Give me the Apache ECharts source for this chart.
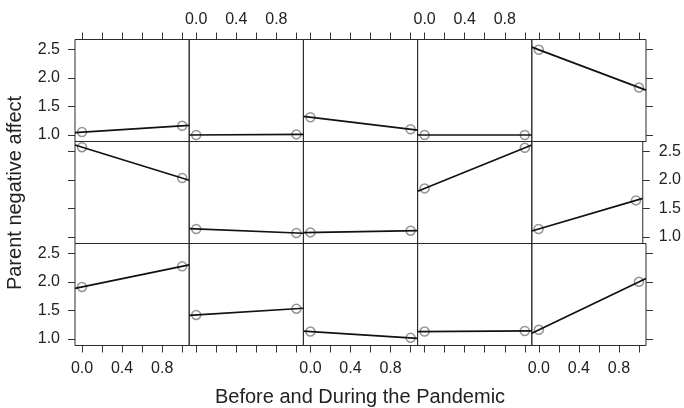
<!DOCTYPE html>
<html>
<head>
<meta charset="utf-8">
<script src="https://cdn.jsdelivr.net/npm/echarts@6/dist/echarts.min.js"></script>
<style>
  html, body { margin: 0; padding: 0; background: #fff; }
  #chart { width: 684px; height: 408px; }
</style>
</head>
<body>
<div id="chart"></div>
<script>
// panels read left to right, top row first
const timePoints = [0, 1]
const beforeValues = [
  1.05, 1.00, 1.31, 1.00, 2.49,
  2.57, 1.14, 1.08, 1.85, 1.14,
  1.91, 1.42, 1.13, 1.13, 1.16
]
const duringValues = [
  1.16, 1.01, 1.10, 1.00, 1.83,
  2.03, 1.07, 1.11, 2.56, 1.64,
  2.27, 1.53, 1.02, 1.14, 2.00
]
const xTicks = [0, 0.2, 0.4, 0.6, 0.8, 1.0]
const xLabels = [0, 0.4, 0.8]
const yTicks = [1.0, 1.5, 2.0, 2.5]

const xMin = -0.07, xMax = 1.07
const yMin = 0.886, yMax = 2.67

const nCol = 5, nRow = 3
const left0 = 75, top0 = 39.5, cellW = 114.2, cellH = 102

const font = 'Liberation Sans, Arial, sans-serif'
const tickStyle = { show: true, length: 7, inside: false, lineStyle: { color: '#333', width: 1 } }

const grids = [], xAxes = [], yAxes = [], series = []

for (let i = 0; i < nRow * nCol; i++) {
  const r = Math.floor(i / nCol), c = i % nCol
  grids.push({
    left: left0 + c * cellW, top: top0 + r * cellH,
    width: cellW, height: cellH,
    show: true, borderColor: '#2a2a2a', borderWidth: 1, backgroundColor: 'transparent'
  })

  // x axis: ticks on the outer rows only, labels alternate between columns
  const xOuter = r === 0 || r === nRow - 1
  const xLabelShown = (r === 0 && c % 2 === 1) || (r === nRow - 1 && c % 2 === 0)
  xAxes.push({
    type: 'value', gridIndex: i, min: xMin, max: xMax,
    position: r === 0 ? 'top' : 'bottom',
    axisLine: { show: false, onZero: false },
    splitLine: { show: false },
    axisTick: Object.assign({}, tickStyle, { show: xOuter, customValues: xTicks }),
    axisLabel: {
      show: xLabelShown, customValues: xLabels,
      margin: r === 0 ? 12 : 15,
      fontFamily: font, fontSize: 16, color: '#222',
      formatter: v => v.toFixed(1)
    }
  })

  // y axis: left on first column, right on last column
  const yOuter = c === 0 || c === nCol - 1
  const yLabelShown = (c === 0 && r !== 1) || (c === nCol - 1 && r === 1)
  yAxes.push({
    type: 'value', gridIndex: i, min: yMin, max: yMax,
    position: c === nCol - 1 ? 'right' : 'left',
    axisLine: { show: false, onZero: false },
    splitLine: { show: false },
    axisTick: Object.assign({}, tickStyle, { show: yOuter, customValues: yTicks }),
    axisLabel: {
      show: yLabelShown, customValues: yTicks,
      margin: c === 0 ? 15 : 16,
      fontFamily: font, fontSize: 16, color: '#222',
      formatter: v => v.toFixed(1)
    }
  })

  const a = beforeValues[i], b = duringValues[i]
  series.push({
    type: 'scatter', xAxisIndex: i, yAxisIndex: i,
    symbol: 'circle', symbolSize: 9, silent: true,
    itemStyle: { color: 'rgba(0,0,0,0)', borderColor: '#7a7a7a', borderWidth: 1.5 },
    data: [[timePoints[0], a], [timePoints[1], b]]
  })
  // fitted line through both points, drawn across the whole panel
  const slope = (b - a) / (timePoints[1] - timePoints[0])
  const fit = x => a + slope * (x - timePoints[0])
  series.push({
    type: 'line', xAxisIndex: i, yAxisIndex: i,
    showSymbol: false, silent: true, clip: true,
    lineStyle: { color: '#111', width: 1.7 },
    data: [[xMin, fit(xMin)], [xMax, fit(xMax)]]
  })
}

const chart = echarts.init(document.getElementById('chart'))
chart.setOption({
  animation: false,
  grid: grids,
  xAxis: xAxes,
  yAxis: yAxes,
  series: series,
  graphic: [
    {
      type: 'text', x: 360, y: 397.5,
      style: { text: 'Before and During the Pandemic', font: '20px ' + font, fill: '#222', align: 'center', verticalAlign: 'middle' }
    },
    {
      type: 'text', x: 15, y: 193, rotation: Math.PI / 2,
      style: { text: 'Parent negative affect', font: '20px ' + font, fill: '#222', align: 'center', verticalAlign: 'middle' }
    }
  ]
})
</script>
</body>
</html>
